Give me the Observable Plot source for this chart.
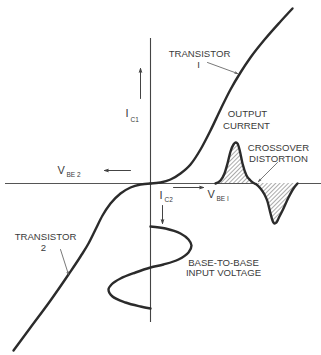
<!DOCTYPE html>
<html>
<head>
<meta charset="utf-8">
<script src="https://cdn.jsdelivr.net/npm/d3@7"></script>
<script src="https://cdn.jsdelivr.net/npm/@observablehq/plot@0.6"></script>
<style>
  html, body { margin: 0; padding: 0; background: #fff; }
  #chart svg { display: block; }
</style>
</head>
<body>
<div id="chart"></div>
<script>
// Transfer curve, transistor 1 (V_BE1, I_C1)
const t1V = [0, 10, 20, 30, 40, 50, 60, 70, 80, 90, 100, 115, 130, 142];
const t1I = [0, 1, 4, 10, 19, 34, 53, 74, 94, 111, 126, 145, 162, 175];
// Transfer curve, transistor 2 (V_BE2, I_C2) drawn in the third quadrant
const t2V = [0, -10, -20, -30, -40, -48, -55, -62, -70, -82, -100, -120, -137];
const t2I = [0, -1, -4, -10, -20, -32, -46, -60, -73, -91, -117, -144, -167];
// Base-to-base input voltage (drawn vertically)
const inV = [0, 15, 30, 38, 41, 38, 28, 13, 0, -15, -30, -39, -42, -38, -25, -10, 0];
const inT = [-43, -45, -50, -56, -62, -69, -76, -81, -84, -89, -95, -101, -106, -113, -119, -123, -125];
// Output current with crossover distortion
const outT = [65, 70, 74, 77, 80, 83, 85, 87, 89, 92, 96, 100, 104, 106, 110, 114, 117, 120, 122, 124, 126, 128, 132, 138, 143, 147];
const outI = [0, 3, 10, 20, 32, 39, 41, 40, 34, 20, 8, 3, 0, -1, -5, -11, -18, -30, -37, -40, -39, -35, -27, -14, -5, 0];

const labelsText = ["TRANSISTOR", "I", "OUTPUT", "CURRENT", "CROSSOVER", "DISTORTION",
                    "TRANSISTOR", "2", "BASE-TO-BASE", "INPUT VOLTAGE"];

const zip = (a, b) => a.map((v, i) => ({x: v, y: b[i]}));
const t1 = zip(t1V, t1I);
const t2 = zip(t2V, t2I);
const inp = zip(inV, inT);
const out = zip(outT, outI);

const labelPos = [[49,130],[48,119],[97,70],[96,58],[128,36],[128,25],[-105,-53],[-107,-64],[73,-79],[73,-89]];
const labels = labelsText.map((t, i) => ({t, x: labelPos[i][0], y: labelPos[i][1]}));

const mains = [
  {t: "I", x: -25, y: 70}, {t: "V", x: -93, y: 13},
  {t: "I", x: 9, y: -12}, {t: "V", x: 57, y: -11}
];
const subs = [
  {t: "C1", x: -20, y: 64}, {t: "BE 2", x: -84, y: 9},
  {t: "C2", x: 14, y: -16}, {t: "BE I", x: 66, y: -15}
];
const axisArrows = [
  {x1: -10, y1: 85, x2: -10, y2: 115},
  {x1: -20, y1: 13, x2: -46, y2: 13},
  {x1: 12, y1: -22, x2: 12, y2: -40},
  {x1: 23, y1: -4, x2: 53, y2: -4}
];
const leaders = [
  {x1: 57, y1: 121, x2: 87, y2: 110},
  {x1: -90, y1: -66, x2: -82, y2: -91},
  {x1: 127, y1: 21, x2: 108, y2: 2}
];

const ink = "#2b2b2b";
const textInk = "#3a3a3a";
const font = "Liberation Sans, Arial, Helvetica, sans-serif";

const svg = Plot.plot({
  width: 321, height: 355,
  margin: 0,
  style: {background: "#fff", fontFamily: font},
  x: {domain: [-150, 171], axis: null},
  y: {domain: [-172, 183], axis: null},
  marks: [
    Plot.ruleX([0], {y1: -139, y2: 145, stroke: "#444", strokeWidth: 1.1}),
    Plot.ruleY([0], {x1: -145, x2: 171, stroke: "#555", strokeWidth: 1.1}),
    Plot.areaY(out, {x: "x", y: "y", fill: "url(#hatch)", curve: "monotone-x"}),
    Plot.line(out, {x: "x", y: "y", stroke: ink, strokeWidth: 2.4, curve: "monotone-x"}),
    Plot.line(t1, {x: "x", y: "y", stroke: ink, strokeWidth: 2.4, curve: "monotone-x"}),
    Plot.line(t2, {x: "x", y: "y", stroke: ink, strokeWidth: 2.4, curve: "monotone-x"}),
    Plot.line(inp, {x: "x", y: "y", stroke: ink, strokeWidth: 2.4, curve: "catmull-rom"}),
    Plot.arrow(axisArrows, {x1: "x1", y1: "y1", x2: "x2", y2: "y2", stroke: "#444", strokeWidth: 1, headLength: 6, headAngle: 35}),
    Plot.arrow(leaders, {x1: "x1", y1: "y1", x2: "x2", y2: "y2", stroke: "#555", strokeWidth: 0.8, headLength: 5, headAngle: 35}),
    Plot.text(labels, {x: "x", y: "y", text: "t", fill: textInk, fontSize: 9.6, textAnchor: "middle", lineAnchor: "middle"}),
    Plot.text(mains, {x: "x", y: "y", text: "t", fill: textInk, fontSize: 11, textAnchor: "start", lineAnchor: "middle"}),
    Plot.text(subs, {x: "x", y: "y", text: "t", fill: textInk, fontSize: 6.5, textAnchor: "start", lineAnchor: "middle"})
  ]
});

const defs = document.createElementNS("http://www.w3.org/2000/svg", "defs");
defs.innerHTML = `<pattern id="hatch" patternUnits="userSpaceOnUse" width="3" height="3" patternTransform="rotate(45)">
  <rect width="3" height="3" fill="#fff"/>
  <line x1="0" y1="0" x2="0" y2="3" stroke="#444" stroke-width="0.9"/>
</pattern>`;
svg.insertBefore(defs, svg.firstChild);
document.getElementById("chart").appendChild(svg);
</script>
</body>
</html>
